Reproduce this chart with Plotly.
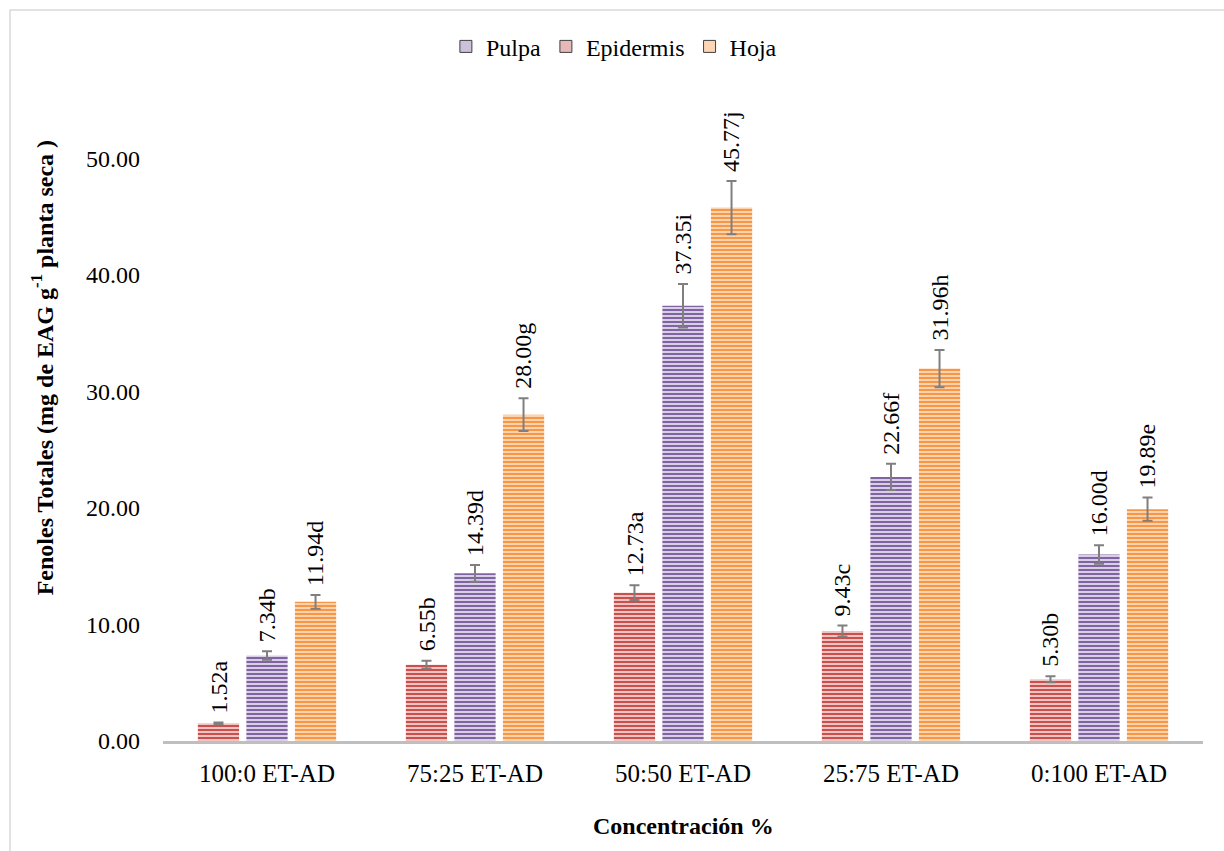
import plotly.graph_objects as go

# Concentración del extracto (etanol : agua destilada)
categorias = ["100:0 ET-AD", "75:25 ET-AD", "50:50 ET-AD", "25:75 ET-AD", "0:100 ET-AD"]

# Fenoles totales (mg EAG g-1 planta seca) y letras de significancia
epidermis = [1.52, 6.55, 12.73, 9.43, 5.30]
epidermis_letras = ["a", "b", "a", "c", "b"]
pulpa = [7.34, 14.39, 37.35, 22.66, 16.00]
pulpa_letras = ["b", "d", "i", "f", "d"]
hoja = [11.94, 28.00, 45.77, 31.96, 19.89]
hoja_letras = ["d", "g", "j", "h", "e"]

ERR_PCT = 5  # barras de error: 5 % del valor

FONT = "Liberation Serif"

series = [
    # nombre, valores, letras, color oscuro, color claro, rango en leyenda, desplazamiento px
    ("Epidermis", epidermis, epidermis_letras, "#C9504D", "#EFC3C2", 2, -48.5),
    ("Pulpa", pulpa, pulpa_letras, "#8064A2", "#D8CEE6", 1, 0),
    ("Hoja", hoja, hoja_letras, "#F79646", "#FDD3AE", 3, 48.5),
]
legend_fill = {"Pulpa": "#CCC0DA", "Epidermis": "#E6B9B8", "Hoja": "#FCD5B4"}

fig = go.Figure()
annotations = []
for name, vals, letras, dark, light, rank, dx in series:
    fig.add_trace(go.Bar(
        name=name,
        x=categorias,
        y=vals,
        showlegend=False,
        offsetgroup=name,
        marker=dict(
            color=dark,
            line=dict(width=0),
            pattern=dict(shape="-", size=4, solidity=0.5,
                         fgcolor=dark, bgcolor=light, fillmode="replace"),
        ),
        error_y=dict(type="percent", value=ERR_PCT, color="#7F7F7F",
                     thickness=2, width=5),
    ))
    for cat, v, l in zip(categorias, vals, letras):
        annotations.append(dict(
            x=cat, y=v * (1 + ERR_PCT / 100), xref="x", yref="y",
            text=f"{v:.2f}{l}", showarrow=False, textangle=-90,
            xanchor="center", yanchor="bottom", xshift=dx, yshift=7,
            font=dict(family=FONT, size=24, color="#000000"),
        ))

# entradas de leyenda con recuadro sólido y borde
for name, vals, letras, dark, light, rank, dx in series:
    fig.add_trace(go.Bar(
        name=name, x=[None], y=[None], legendrank=rank, offsetgroup=name,
        marker=dict(color=legend_fill[name], line=dict(color="#404040", width=1)),
        showlegend=True,
    ))

# títulos de ejes
annotations.append(dict(
    x=0.5, y=-0.133, xref="paper", yref="paper",
    text="<b>Concentración %</b>", showarrow=False,
    xanchor="center", yanchor="middle",
    font=dict(family=FONT, size=24, color="#000000"),
))
annotations.append(dict(
    x=-0.116, y=0.582, xref="paper", yref="paper",
    text="<b>Fenoles Totales (mg de EAG g<sup>-1</sup> planta seca )</b>",
    showarrow=False, textangle=-90,
    xanchor="center", yanchor="middle",
    font=dict(family=FONT, size=24, color="#000000"),
))

fig.update_layout(
    width=1224, height=851,
    margin=dict(l=163, r=21, t=100, b=110),
    paper_bgcolor="#FFFFFF",
    plot_bgcolor="#FFFFFF",
    barmode="group",
    bargap=0.30,
    bargroupgap=0.15,
    font=dict(family=FONT, size=24, color="#000000"),
    showlegend=True,
    legend=dict(
        orientation="h", x=0.272, y=1.083, xanchor="left", yanchor="middle",
        font=dict(family=FONT, size=24, color="#000000"),
        itemwidth=30, traceorder="normal", bgcolor="rgba(0,0,0,0)",
    ),
    annotations=annotations,
    shapes=[dict(
        type="rect", xref="paper", yref="paper",
        x0=-0.1471, x1=1.05, y0=-0.2, y1=1.1404,
        line=dict(color="#D9D9D9", width=1.5), fillcolor="rgba(0,0,0,0)",
        layer="below",
    )],
)

fig.update_xaxes(
    showline=True, linecolor="#BFBFBF", linewidth=3,
    showgrid=False, zeroline=False, ticks="",
    ticklabelstandoff=8,
    tickfont=dict(family=FONT, size=25, color="#000000"),
    automargin=False,
)
fig.update_yaxes(
    range=[0, 55], tickvals=[0, 10, 20, 30, 40, 50],
    tickformat=".2f",
    showline=False, showgrid=False, zeroline=False, ticks="",
    ticklabelstandoff=22,
    tickfont=dict(family=FONT, size=24, color="#000000"),
    automargin=False,
)

fig.write_html("out.html")
